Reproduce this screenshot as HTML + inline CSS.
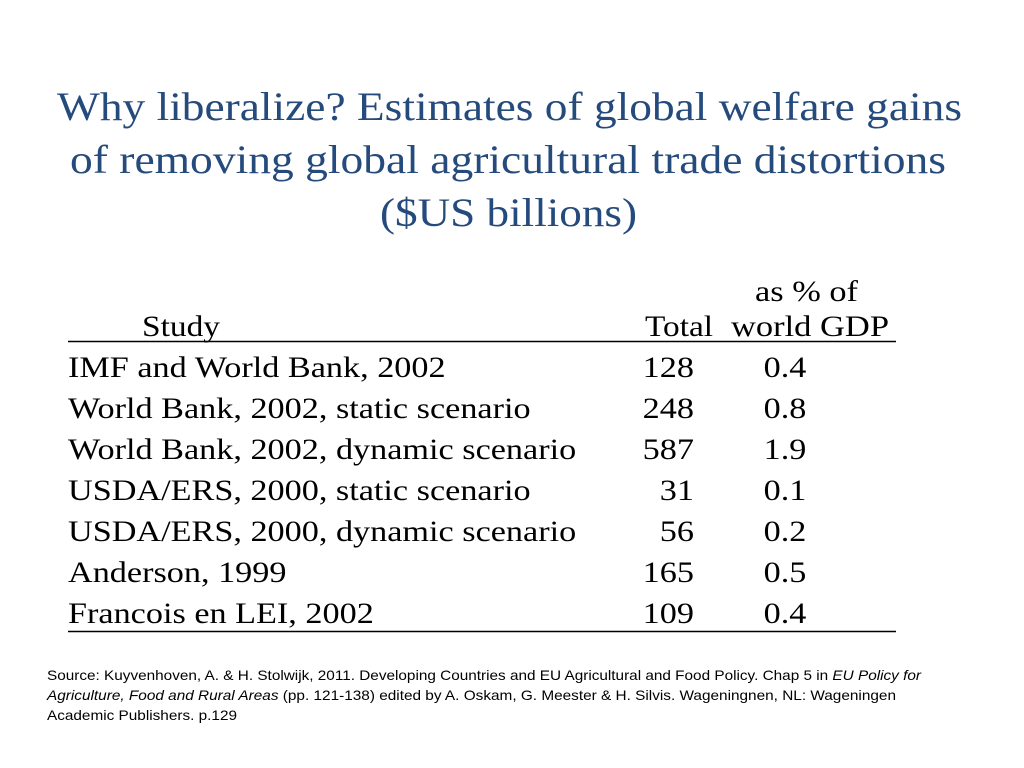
<!DOCTYPE html>
<html><head><meta charset="utf-8"><style>
html,body{margin:0;padding:0;background:#fff;}
svg{display:block;}
</style></head><body>
<svg width="1024" height="768" viewBox="0 0 1024 768">
<g font-family="Liberation Serif, serif" font-size="40" fill="#254a7c">
<text x="57" y="120" textLength="905" lengthAdjust="spacingAndGlyphs">Why liberalize? Estimates of global welfare gains</text>
<text x="70" y="173" textLength="876" lengthAdjust="spacingAndGlyphs">of removing global agricultural trade distortions</text>
<text x="380" y="226" textLength="257" lengthAdjust="spacingAndGlyphs">($US billions)</text>
</g>
<g font-family="Liberation Serif, serif" font-size="30" fill="#000">
<text x="755" y="301" textLength="103" lengthAdjust="spacingAndGlyphs">as % of</text>
<text x="142" y="336" textLength="78" lengthAdjust="spacingAndGlyphs">Study</text>
<text x="645" y="336" textLength="68" lengthAdjust="spacingAndGlyphs">Total</text>
<text x="731" y="336" textLength="158" lengthAdjust="spacingAndGlyphs">world GDP</text>
<line x1="68" y1="341.5" x2="896" y2="341.5" stroke="#000" stroke-width="1.5"/>
<g id="rows"></g>
<line x1="68" y1="631.5" x2="896" y2="631.5" stroke="#000" stroke-width="1.5"/>
</g>
<g font-family="Liberation Sans, sans-serif" font-size="14" fill="#000">
<text x="47" y="680" textLength="874" lengthAdjust="spacingAndGlyphs">Source: Kuyvenhoven, A. &amp; H. Stolwijk, 2011. Developing Countries and EU Agricultural and Food Policy. Chap 5 in <tspan font-style="italic">EU Policy for</tspan></text>
<text x="47" y="700" textLength="849" lengthAdjust="spacingAndGlyphs"><tspan font-style="italic">Agriculture, Food and Rural Areas</tspan> (pp. 121-138) edited by A. Oskam, G. Meester &amp; H. Silvis. Wageningnen, NL: Wageningen</text>
<text x="47" y="720" textLength="190" lengthAdjust="spacingAndGlyphs">Academic Publishers. p.129</text>
</g>
</svg>
<script>
const studies = ["IMF and World Bank, 2002","World Bank, 2002, static scenario","World Bank, 2002, dynamic scenario","USDA/ERS, 2000, static scenario","USDA/ERS, 2000, dynamic scenario","Anderson, 1999","Francois en LEI, 2002"];
const totals = [128,248,587,31,56,165,109];
const gdpPct = ["0.4","0.8","1.9","0.1","0.2","0.5","0.4"];
const NS = "http://www.w3.org/2000/svg";
const g = document.getElementById("rows");
const STRETCH = 1.14;
function rowY(i){ return 377 + i*41; }
function widen(t){
  const w = t.getComputedTextLength();
  if (w > 0) { t.setAttribute("textLength", (w*STRETCH).toFixed(1)); t.setAttribute("lengthAdjust","spacingAndGlyphs"); }
}
studies.forEach(function(s,i){
  const t1 = document.createElementNS(NS,"text");
  t1.setAttribute("x",68); t1.setAttribute("y",rowY(i)); t1.textContent = s;
  
  
  g.appendChild(t1); widen(t1);
  const t2 = document.createElementNS(NS,"text");
  t2.setAttribute("x",694); t2.setAttribute("y",rowY(i)); t2.setAttribute("text-anchor","end"); t2.textContent = totals[i];
  
  
  g.appendChild(t2); widen(t2);
  const t3 = document.createElementNS(NS,"text");
  t3.setAttribute("x",785); t3.setAttribute("y",rowY(i)); t3.setAttribute("text-anchor","middle"); t3.textContent = gdpPct[i];
  
  
  g.appendChild(t3); widen(t3);
});
</script>
</body></html>
